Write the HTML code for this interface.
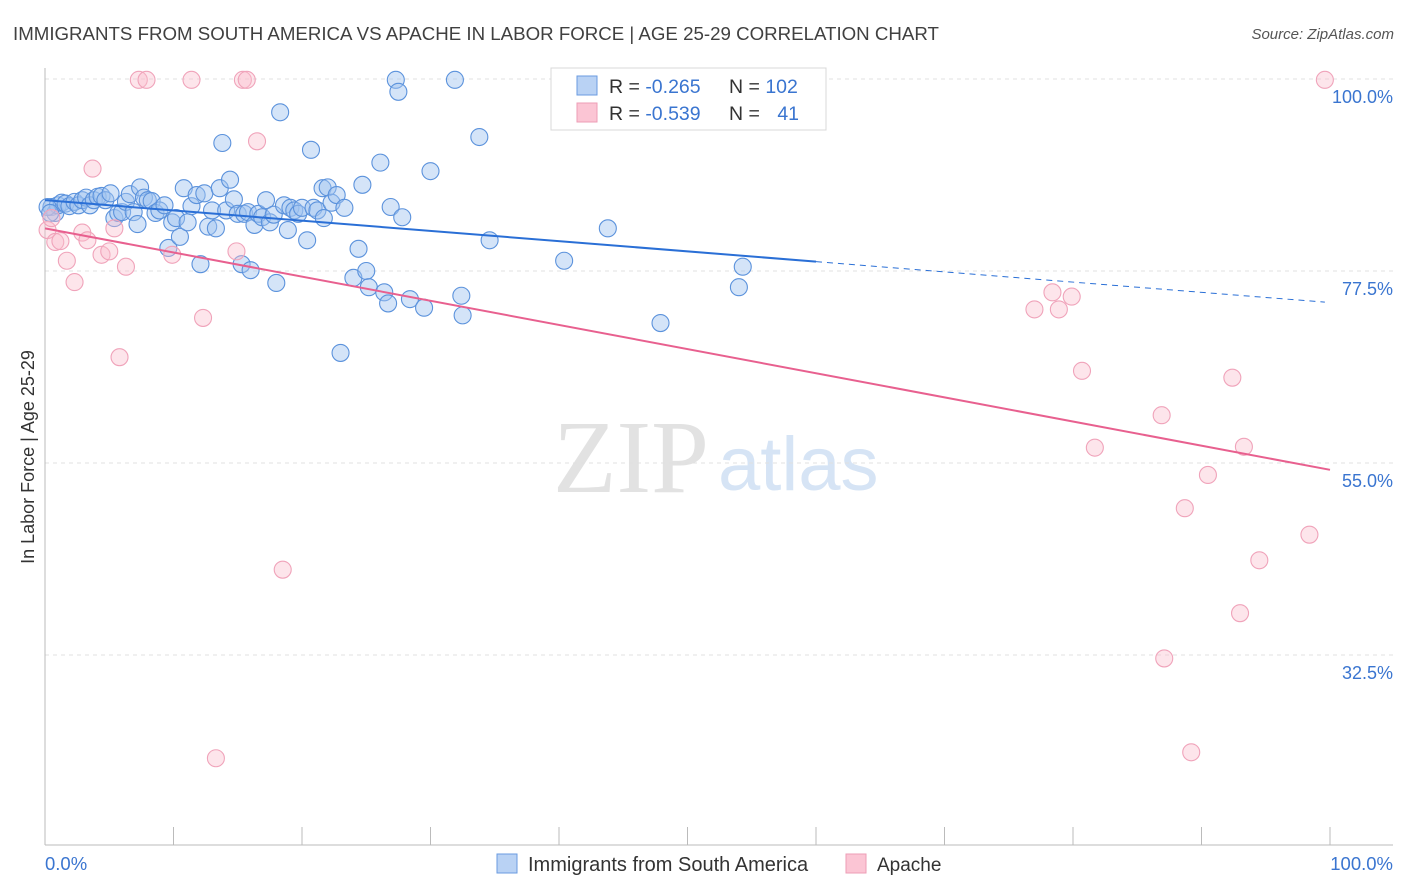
<!DOCTYPE html>
<html><head><meta charset="utf-8"><style>
body{margin:0;background:#fff;font-family:"Liberation Sans",sans-serif;}
svg{display:block}
</style></head><body>
<svg id="chart" width="1406" height="892" xmlns="http://www.w3.org/2000/svg">
<text x="13" y="40" font-size="18.7" fill="#404040">IMMIGRANTS FROM SOUTH AMERICA VS APACHE IN LABOR FORCE | AGE 25-29 CORRELATION CHART</text>
<text x="1394" y="39" font-size="15" font-style="italic" fill="#555" text-anchor="end">Source: ZipAtlas.com</text>
<g>
<text x="553" y="492" font-family="Liberation Serif,serif" font-size="104" fill="#e2e2e2">ZIP</text>
<text x="718" y="490" font-size="76" fill="#d6e4f5">atlas</text>
</g>
<g id="grid"></g>
<g id="axes"></g>
<g id="marks"></g>
<g>
<rect x="551" y="68" width="275" height="62" fill="#fff" stroke="#d8d8d8"/>
<rect x="577" y="76" width="20" height="19" fill="#b9d2f4" stroke="#6a9be0"/>
<rect x="577" y="103" width="20" height="19" fill="#fbc5d4" stroke="#ee9db6"/>
<text x="609" y="93" font-size="19.5" fill="#333">R = <tspan fill="#3a75d0">-0.265</tspan></text>
<text x="729" y="93" font-size="19.5" fill="#333">N = <tspan fill="#3a75d0">102</tspan></text>
<text x="609" y="120" font-size="19.5" fill="#333">R = <tspan fill="#3a75d0">-0.539</tspan></text>
<text x="729" y="120" font-size="19.5" fill="#333">N = <tspan fill="#3a75d0" dx="12">41</tspan></text>
</g>
<g>
<rect x="497" y="854" width="20" height="19" fill="#b9d2f4" stroke="#6a9be0"/>
<text x="528" y="871" font-size="20" fill="#333">Immigrants from South America</text>
<rect x="846" y="854" width="20" height="19" fill="#fbc5d4" stroke="#ee9db6"/>
<text x="877" y="871" font-size="19" fill="#333">Apache</text>
</g>
<text x="45" y="870" font-size="18.5" fill="#3a75d0">0.0%</text>
<text x="1393" y="870" font-size="18.5" fill="#3a75d0" text-anchor="end">100.0%</text>
<text transform="translate(34,457) rotate(-90)" font-size="18" fill="#333" text-anchor="middle">In Labor Force | Age 25-29</text>
</svg>
<script>
const yTicks=[100,77.5,55,32.5];
const yTickLabels=["100.0%","77.5%","55.0%","32.5%"];
const xTicks=[0,10,20,30,40,50,60,70,80,90,100];
const blueX=[0.5,0.8,1.0,1.3,1.6,1.9,2.3,2.6,2.9,3.2,3.5,3.8,4.1,4.4,4.7,5.1,5.4,5.7,6.0,6.3,6.6,6.9,7.2,7.4,7.7,8.0,8.3,8.6,8.9,9.3,9.6,9.9,10.2,10.5,10.8,11.1,11.4,11.8,12.1,12.4,12.7,13.0,13.3,13.6,13.8,14.1,14.4,14.7,15.0,15.3,15.5,15.8,16.0,16.3,16.6,16.9,17.2,17.5,17.8,18.0,18.3,18.6,18.9,19.1,19.4,19.7,20.0,20.4,20.7,20.9,21.2,21.6,21.7,22.0,22.3,22.7,23.0,23.3,24.0,24.4,24.7,25.0,25.2,26.1,26.4,26.7,26.9,27.3,27.5,27.8,28.4,29.5,30.0,31.9,32.4,32.5,33.8,34.6,40.4,43.8,47.9,54.0,54.3,0.2,0.4];
const blueY=[85.0,84.3,85.2,85.5,85.4,85.1,85.6,85.2,85.8,86.1,85.2,85.8,86.2,86.3,85.8,86.6,83.7,84.3,84.4,85.6,86.5,84.4,83.0,87.3,86.1,85.8,85.7,84.3,84.6,85.2,80.2,83.2,83.7,81.5,87.2,83.2,85.1,86.4,78.3,86.6,82.7,84.6,82.5,87.2,92.5,84.6,88.2,85.9,84.2,78.3,84.2,84.4,77.6,82.9,84.2,83.8,85.8,83.2,84.1,76.1,96.1,85.2,82.3,84.9,84.6,84.2,84.9,81.1,91.7,84.9,84.6,87.2,83.7,87.3,85.5,86.4,67.9,84.9,76.7,80.1,87.6,77.5,75.6,90.2,75.0,73.7,85.0,99.9,98.5,83.8,74.2,73.2,89.2,99.9,74.6,72.3,93.2,81.1,78.7,82.5,71.4,75.6,78.0,85.0,84.3];
const pinkX=[0.2,0.5,0.8,1.2,1.7,2.3,2.9,3.3,3.7,4.4,5.0,5.4,5.8,6.3,7.3,7.9,9.9,11.4,12.3,13.3,14.9,15.4,15.7,16.5,18.5,77.0,78.4,78.9,79.9,80.7,81.7,86.9,87.1,88.7,89.2,90.5,92.4,93.0,93.3,94.5,98.4,99.6];
const pinkY=[82.3,83.7,80.9,81.0,78.7,76.2,82.0,81.1,89.5,79.4,79.8,82.5,67.4,78.0,99.9,99.9,79.4,99.9,72.0,20.4,79.8,99.9,99.9,92.7,42.5,73.0,75.0,73.0,74.5,65.8,56.8,60.6,32.1,49.7,21.1,53.6,65.0,37.4,56.9,43.6,46.6,99.9];
const blueTrend=[85.8,-0.12];
const pinkTrend=[82.5,-0.283];
const blueSolidEnd=60, blueDashEnd=99.6;

const NS="http://www.w3.org/2000/svg";
const X0=45,X1=1330,Y100=79,PXPER=192/22.5;
const sx=v=>X0+(X1-X0)*v/100;
const sy=v=>Y100+(100-v)*PXPER;
function mk(tag,attrs,parent){const e=document.createElementNS(NS,tag);for(const k in attrs)e.setAttribute(k,attrs[k]);parent.appendChild(e);return e;}
const grid=document.getElementById('grid'),axes=document.getElementById('axes'),marks=document.getElementById('marks');
yTicks.forEach((t,i)=>{
  const l=mk('line',{x1:45,x2:1393,y1:sy(t),y2:sy(t),stroke:'#e0e0e0','stroke-dasharray':'4,4'},grid);
  
  
  const tx=mk('text',{x:1393,y:sy(t)+24,'font-size':18,fill:'#3a75d0','text-anchor':'end'},axes);
  tx.textContent=yTickLabels[i];
  
  
});
const ya=mk('line',{x1:45,x2:45,y1:68,y2:845,stroke:'#bbb'},axes);


const xa=mk('line',{x1:45,x2:1393,y1:845,y2:845,stroke:'#bbb'},axes);


xTicks.forEach(t=>{
  const l=mk('line',{x1:sx(t),x2:sx(t),y1:827,y2:845,stroke:'#bbb'},axes);
  
  
});
blueX.forEach((x,i)=>{
  const c=mk('circle',{cx:sx(x),cy:sy(blueY[i]),r:8.5,fill:'rgba(160,195,240,0.45)',stroke:'#5b92dc','stroke-width':1.1},marks);
  
  
});
pinkX.forEach((x,i)=>{
  const c=mk('circle',{cx:sx(x),cy:sy(pinkY[i]),r:8.5,fill:'rgba(250,190,205,0.4)',stroke:'#f0a3ba','stroke-width':1.1},marks);
  
  
});
const bt=x=>blueTrend[0]+blueTrend[1]*x, pt=x=>pinkTrend[0]+pinkTrend[1]*x;
const b1=mk('line',{x1:sx(0),y1:sy(bt(0)),x2:sx(blueSolidEnd),y2:sy(bt(blueSolidEnd)),stroke:'#2a6fd6','stroke-width':2},marks);


const b2=mk('line',{x1:sx(blueSolidEnd),y1:sy(bt(blueSolidEnd)),x2:sx(blueDashEnd),y2:sy(bt(blueDashEnd)),stroke:'#2a6fd6','stroke-width':1,'stroke-dasharray':'6,5'},marks);


const p1=mk('line',{x1:sx(0),y1:sy(pt(0)),x2:sx(100),y2:sy(pt(100)),stroke:'#e8608f','stroke-width':2},marks);


</script>
</body></html>
